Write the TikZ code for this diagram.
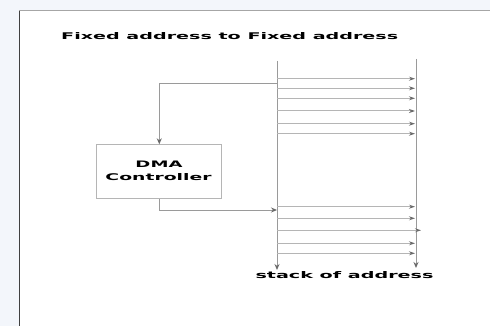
\documentclass[tikz,border=0pt]{standalone}
\usepackage{fontspec}
\setmainfont{DejaVu Sans}
\usetikzlibrary{arrows.meta}
\definecolor{pagebg}{HTML}{F3F6FB}
\definecolor{busline}{HTML}{9A9A9A}
\definecolor{hline}{HTML}{B5B5B5}
\definecolor{tipcol}{HTML}{6A6A6A}
\tikzset{
  bus/.style={draw=busline, line width=1pt, -{Stealth[length=6pt,width=5pt,color=tipcol]}},
  addr/.style={draw=hline, line width=1pt, -{Stealth[length=6pt,width=4pt,color=tipcol]}},
  ctl/.style={draw=busline, line width=0.9pt, -{Stealth[length=6pt,width=5pt,color=tipcol]}},
  dmabox/.style={draw=hline, line width=1pt, fill=white, minimum width=125pt, minimum height=54pt, inner sep=0pt},
  lbl/.style={inner sep=0pt, text=black}
}
\begin{document}
\begin{tikzpicture}[x=1pt,y=-1pt]
\useasboundingbox (0,0) rectangle (490,326);
\fill[pagebg] (0,0) rectangle (490,326);
\fill[white] (19,11) rectangle (490,326);
\draw[color=black!75, line width=1pt] (19,11) -- (19,326);
\draw[color=black!35, line width=1pt] (19,11) -- (490,11);
% title
\node[lbl, anchor=base west] (title) at (61,40) {\resizebox{337pt}{7pt}{\bfseries Fixed address to Fixed address}};
% vertical buses
\coordinate (L0) at (277,61);
\coordinate (L1) at (277,270);
\coordinate (R0) at (416,59);
\coordinate (R1) at (416,268);
\draw[bus] (L0) -- (L1);
\draw[bus] (R0) -- (R1);
% address lines
\foreach \y in {78.7,88.3,98.3,111,123.7,133.7,206.7,218.3,243.3,253.3}{
  \draw[addr] (277,\y) -- (415,\y);
}
\draw[addr] (277,230.3) -- (421,230.3);
% DMA controller box
\node[dmabox, anchor=north west] (dma) at (96.3,144.3) {};
\node[lbl, anchor=base] (dmat) at (159,167.5) {\resizebox{47pt}{6.5pt}{\bfseries DMA}};
\node[lbl, anchor=base] (ctrlt) at (158.5,180.5) {\resizebox{106pt}{7pt}{\bfseries Controller}};
% control lines
\coordinate (fb) at (277,83.3);
\coordinate (in) at (277,210);
\draw[ctl] (fb) -| (dma.north);
\draw[ctl] (dma.south) |- (in);
% bottom label
\node[lbl, anchor=base] (stack) at (344.5,278) {\resizebox{178pt}{7pt}{\bfseries stack of address}};
\end{tikzpicture}
\end{document}
